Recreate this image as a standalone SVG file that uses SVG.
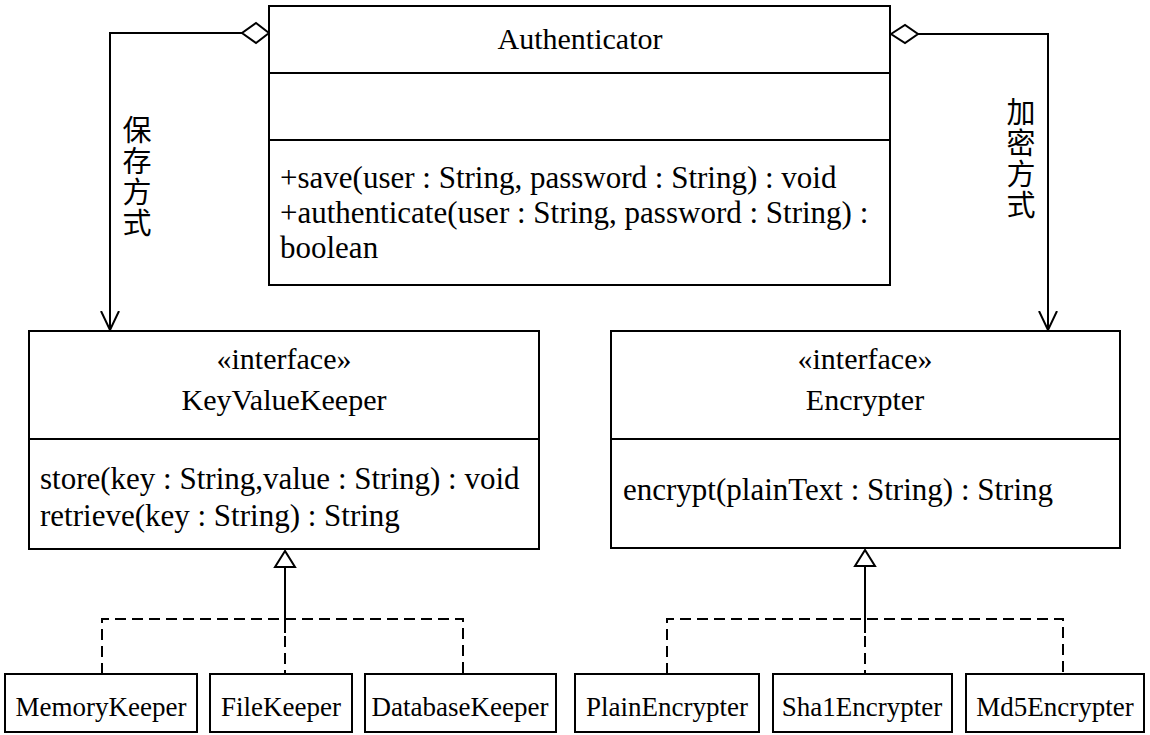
<svg xmlns="http://www.w3.org/2000/svg" width="1150" height="735" viewBox="0 0 1150 735">
<defs>
<style>
.box{fill:#fff;stroke:#000;stroke-width:2}
.ln{fill:none;stroke:#000;stroke-width:2}
.dash{fill:none;stroke:#000;stroke-width:2;stroke-dasharray:11 6}
text{font-family:"Liberation Serif","Times New Roman",serif;fill:#000}
.t{font-size:30px}
.op{font-size:31px}
.s{font-size:27px}
.c{font-family:"Liberation Serif","Noto Sans CJK SC",sans-serif;font-size:29px}
.m{text-anchor:middle}
</style>
<marker id="open" viewBox="0 0 20 20" refX="19" refY="10" markerWidth="20" markerHeight="20" markerUnits="userSpaceOnUse" orient="auto">
<path d="M0,1 L19,10 L0,19" fill="none" stroke="#000" stroke-width="2"/>
</marker>
</defs>
<rect width="1150" height="735" fill="#fff"/>

<g id="connectors">
<path class="ln" d="M242,33 H110 V330" marker-end="url(#open)"/>
<polygon class="box" points="269,33 256,23 242,33 256,43"/>
<path class="ln" d="M918,34 H1048 V330" marker-end="url(#open)"/>
<polygon class="box" points="891,34 905,25 918,34 905,43"/>
<text class="c m" x="137" y="141">保</text>
<text class="c m" x="137" y="172">存</text>
<text class="c m" x="137" y="203">方</text>
<text class="c m" x="137" y="234">式</text>
<text class="c m" x="1021" y="123">加</text>
<text class="c m" x="1021" y="154">密</text>
<text class="c m" x="1021" y="185">方</text>
<text class="c m" x="1021" y="216">式</text>

<path class="ln" d="M285,567 V633"/>
<polygon class="box" points="285,551 275,567 295,567"/>
<path class="dash" d="M102,674 V619 H463 V674"/>
<path class="dash" d="M285,619 V674"/>

<path class="ln" d="M865,567 V633"/>
<polygon class="box" points="865,550 855,566 875,566"/>
<path class="dash" d="M667,674 V619 H1063 V674"/>
<path class="dash" d="M865,619 V674"/>
</g>

<g id="Authenticator">
<rect class="box" x="269" y="6" width="621" height="279"/>
<path class="ln" d="M269,73 H890 M269,140 H890"/>
<text class="t m" x="580" y="49">Authenticator</text>
<text class="op" x="280" y="188">+save(user : String, password : String) : void</text>
<text class="op" x="280" y="223">+authenticate(user : String, password : String) :</text>
<text class="op" x="280" y="258">boolean</text>
</g>

<g id="KeyValueKeeper">
<rect class="box" x="29" y="331" width="510" height="218"/>
<path class="ln" d="M29,439 H539"/>
<text class="t m" x="284" y="369">«interface»</text>
<text class="t m" x="284" y="410">KeyValueKeeper</text>
<text class="op" x="40" y="489">store(key : String,value : String) : void</text>
<text class="op" x="40" y="526">retrieve(key : String) : String</text>
</g>

<g id="Encrypter">
<rect class="box" x="611" y="331" width="509" height="217"/>
<path class="ln" d="M611,439 H1120"/>
<text class="t m" x="865" y="369">«interface»</text>
<text class="t m" x="865" y="410">Encrypter</text>
<text class="op" x="623" y="500">encrypt(plainText : String) : String</text>
</g>

<g id="MemoryKeeper"><rect class="box" x="5" y="674" width="192" height="58"/><text class="s m" x="101" y="716">MemoryKeeper</text></g>
<g id="FileKeeper"><rect class="box" x="210" y="674" width="142" height="58"/><text class="s m" x="281" y="716">FileKeeper</text></g>
<g id="DatabaseKeeper"><rect class="box" x="365" y="674" width="191" height="58"/><text class="s m" x="460" y="716">DatabaseKeeper</text></g>
<g id="PlainEncrypter"><rect class="box" x="575" y="674" width="184" height="58"/><text class="s m" x="667" y="716">PlainEncrypter</text></g>
<g id="Sha1Encrypter"><rect class="box" x="773" y="674" width="179" height="58"/><text class="s m" x="862" y="716">Sha1Encrypter</text></g>
<g id="Md5Encrypter"><rect class="box" x="966" y="674" width="178" height="58"/><text class="s m" x="1055" y="716">Md5Encrypter</text></g>
</svg>
